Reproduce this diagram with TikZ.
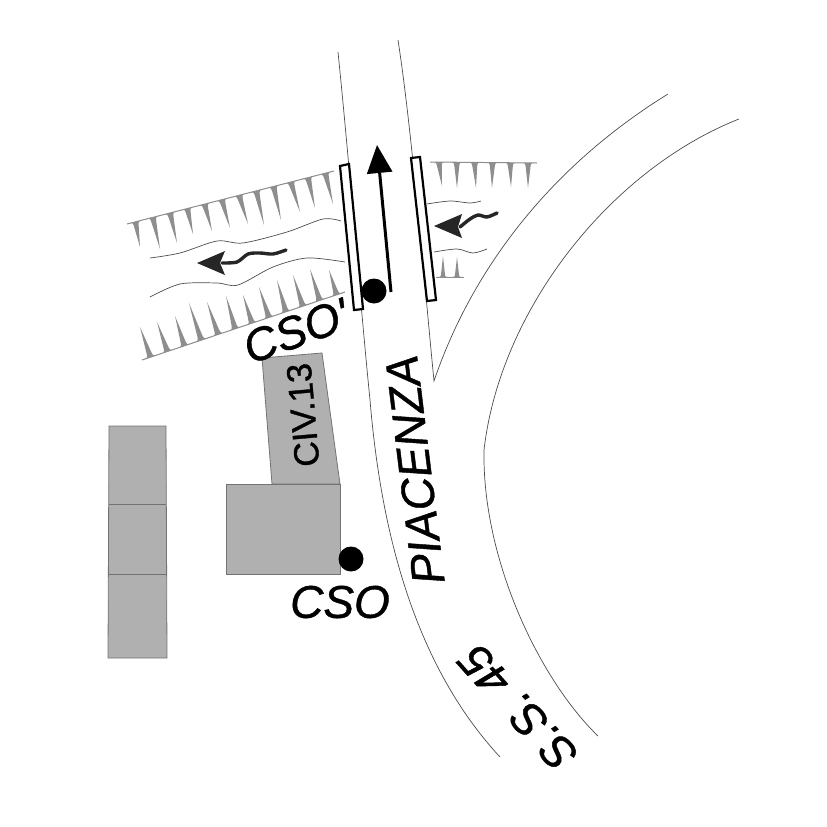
\documentclass[tikz,border=0pt]{standalone}
\usepackage{fontspec}
\newfontfamily\labelfont{Liberation Sans}[FakeBold=0.9]
\usepackage{tikz}
\usetikzlibrary{calc, arrows.meta}

\definecolor{bldgray}{HTML}{B0B0B0}
\definecolor{bankgray}{HTML}{8E8E8E}
\definecolor{flowdark}{HTML}{262626}

\tikzset{
    roadline/.style={draw=black!70, line width=0.7pt},
    waterline/.style={draw=black!70, line width=0.7pt},
    building/.style={draw=black!55, fill=bldgray, line width=0.8pt},
    bridgebar/.style={draw=black, fill=white, line width=2.2pt},
    tooth/.style={fill=bankgray},
    flowarrow/.style={flowdark, line width=3.4pt, line cap=round},
    dotmark/.style={fill=black},
    biglabel/.style={font=\labelfont\fontsize{46}{46}\selectfont\itshape, inner sep=0pt},
}

% one row of teeth: bank ends #1 and #2, count #3, list of tips #4
\newcommand{\bankteeth}[4]{
    \draw[bankgray, line width=1pt] (#1) -- (#2);
    \foreach \tx/\ty [count=\i] in {#4} {
        \pgfmathsetmacro{\ta}{(\i-0.95)/#3}
        \pgfmathsetmacro{\tb}{(\i-0.05)/#3}
        \pgfmathsetmacro{\tc}{(\i-0.66)/#3}
        \pgfmathsetmacro{\td}{(\i-0.34)/#3}
        \fill[tooth] ($(#1)!\ta!(#2)$)
            .. controls ($(#1)!\tc!(#2)$) .. ($(#1)!\tc!(#2)!0.2!(\tx,\ty)$)
            -- (\tx,\ty)
            -- ($(#1)!\td!(#2)!0.2!(\tx,\ty)$)
            .. controls ($(#1)!\td!(#2)$) .. ($(#1)!\tb!(#2)$) -- cycle;
    }
}

\begin{document}
\begin{tikzpicture}[x=1pt, y=-1pt]
    \useasboundingbox (0,0) rectangle (827,827);

    % Road edges
    \draw[roadline] (338,52) .. controls (350,170) and (360,300) .. (370,400)
        .. controls (380,520) and (410,660) .. (500,757);
    \draw[roadline] (398,40) .. controls (412,130) and (425,290) .. (434,381)
        .. controls (470,275) and (545,170) .. (668,94);
    \draw[roadline] (739,119) .. controls (610,170) and (500,310) .. (484,450)
        .. controls (482,560) and (540,680) .. (598,736);

    % Banks of the stream
    \coordinate (bankTL) at (127,224);
    \coordinate (bankTR) at (334,171);
    \coordinate (bankBL) at (142,360);
    \coordinate (bankBR) at (345,292);
    \coordinate (bankEL) at (430,162);
    \coordinate (bankER) at (537,163);
    \coordinate (bankFL) at (436,277);
    \coordinate (bankFR) at (464,277);
    \bankteeth{bankTL}{bankTR}{12}{140/247,160/249,177/243,193/234,212/231,230/228,248/224,264/225,281/220,300/212,315/208,333/204}
    \bankteeth{bankBL}{bankBR}{12}{140/327,157/322,175/316,189/303,207/302,226/296,243/295,259/287,277/280,293/275,310/269,329/270}
    \bankteeth{bankEL}{bankER}{6}{442/186,457/188,476/188,492/188,511/187,528/188}
    \bankteeth{bankFL}{bankFR}{2}{443/256,457/257}

    % Water lines
    \draw[waterline] plot[smooth] coordinates {(150,258) (180,253) (217,241) (243,243) (287,232) (323,219) (341,221)};
    \draw[waterline] plot[smooth] coordinates {(150,297) (180,284) (217,283) (238,285) (273,267) (307,258) (345,262)};
    \draw[waterline] plot[smooth] coordinates {(427,204) (450,201) (470,203) (481,201)};
    \draw[waterline] plot[smooth] coordinates {(434,252) (457,249) (473,253) (487,249)};

    % Flow arrows
    \draw[flowarrow] plot[smooth] coordinates {(222,263) (237,262) (248,254) (260,253) (273,254) (286,250)};
    \fill[flowdark] (197,263) -- (225,251) -- (220,263) -- (225,275) -- cycle;
    \draw[flowarrow] plot[smooth] coordinates {(460,227) (470,219) (478,215) (487,217) (497,213)};
    \fill[flowdark] (434,226) -- (462,214) -- (458,227) -- (462,238) -- cycle;

    % Bridge
    \draw[bridgebar] (340,166) -- (349,164) -- (363,309) -- (354,310) -- cycle;
    \draw[bridgebar] (411,158) -- (420,157) -- (436,300) -- (427,301) -- cycle;
    \coordinate (dirstart) at (391,292);
    \coordinate (dirend) at (377,145);
    \draw[-{Triangle[length=28pt, width=25pt]}, line width=3pt] (dirstart) -- (dirend);

    % Buildings
    \draw[building] (109,426) -- (166,426) -- (167,658) -- (108,658) -- cycle;
    \draw[building] (109,504) -- (166,504);
    \draw[building] (108,574) -- (166,574);
    \draw[building] (262,358) -- (322,353) -- (340,484) -- (272,484) -- cycle;
    \draw[building] (226,484) rectangle (340,574);

    % Measuring points
    \fill[dotmark] (374,291) circle (12.5);
    \fill[dotmark] (351,559) circle (12.5);

    % Labels
    \node[biglabel] (csoprime) at (296,331) [rotate=20] {CSO'};
    \node[biglabel] (cso) at (340,602) {CSO};
    \node[biglabel] (piacenza) at (415,470) [rotate=97] {PIACENZA};
    \node[biglabel] (statale) at (518,708) [rotate=132] {S.S. 45};
    \node[font=\labelfont\fontsize{35}{35}\selectfont, inner sep=0pt] (civ) at (303,415) [rotate=95] {CIV.13};
\end{tikzpicture}
\end{document}
